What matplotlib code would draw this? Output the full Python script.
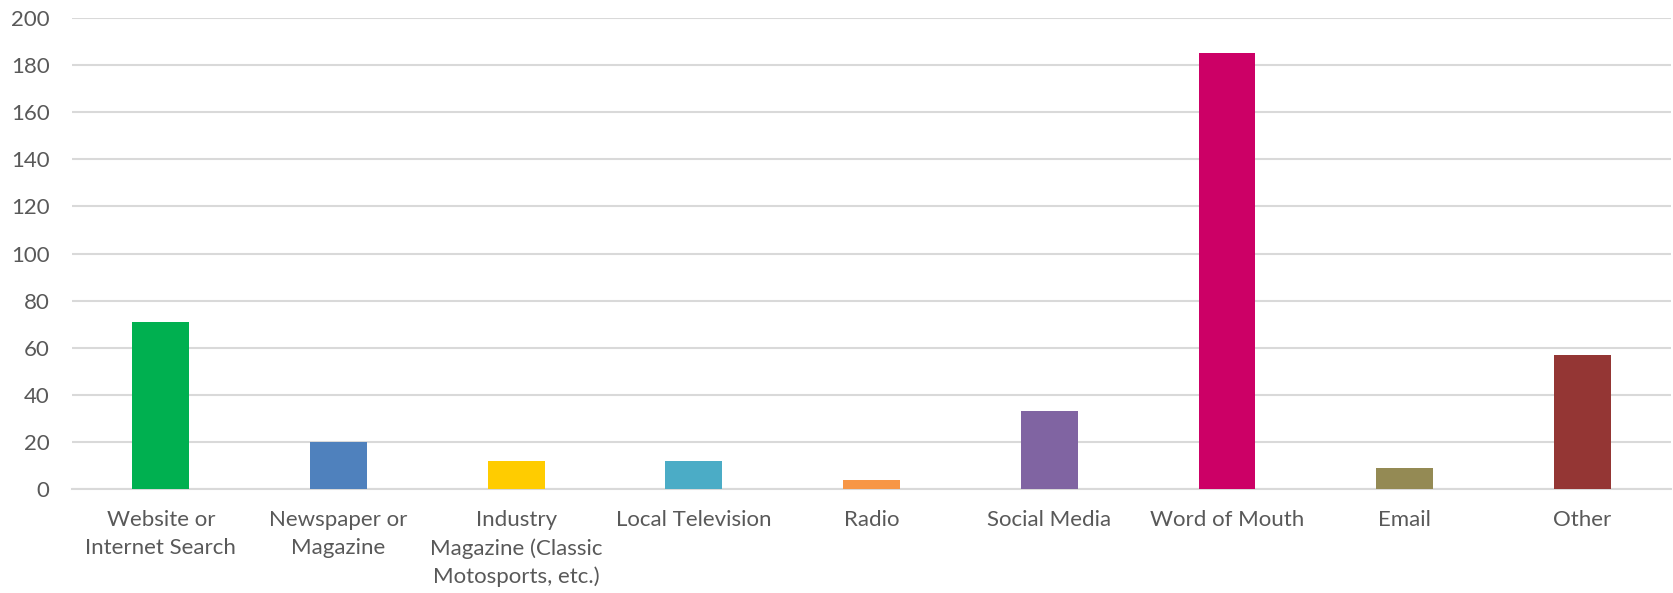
import matplotlib
matplotlib.use("Agg")
import matplotlib.pyplot as plt

# survey: how did you hear about us
categories = [
    "Website or\nInternet Search",
    "Newspaper or\nMagazine",
    "Industry\nMagazine (Classic\nMotosports, etc.)",
    "Local Television",
    "Radio",
    "Social Media",
    "Word of Mouth",
    "Email",
    "Other",
]
counts = [71, 20, 12, 12, 4, 33, 185, 9, 57]
bar_colors = ["#00B050", "#4F81BD", "#FFCC00", "#4BACC6", "#F79646",
              "#8064A2", "#CC0066", "#948A54", "#943634"]
y_ticks = list(range(0, 201, 20))

plt.rcParams["font.family"] = ["Lato", "DejaVu Sans"]

fig = plt.figure(figsize=(16.73, 5.93), dpi=100)
ax = fig.add_axes([0.043, 0.175, 0.956, 0.795])

x = range(len(categories))
ax.bar(x, counts, width=0.32, color=bar_colors, zorder=3)

ax.set_xlim(-0.5, len(categories) - 0.5)
ax.set_ylim(0, 200)
ax.set_yticks(y_ticks)
ax.set_xticks(list(x))
ax.set_xticklabels(categories, linespacing=1.48)

ax.yaxis.grid(True, color="#d9d9d9", linewidth=1.5, zorder=0)
ax.set_axisbelow(True)
for side in ["top", "right", "left"]:
    ax.spines[side].set_visible(False)
ax.spines["bottom"].set_color("#d9d9d9")
ax.spines["bottom"].set_linewidth(1.5)

ax.tick_params(axis="both", length=0, labelsize=16, colors="#595959")
ax.tick_params(axis="y", pad=16)
ax.tick_params(axis="x", pad=15)
for lbl in ax.get_xticklabels():
    lbl.set_verticalalignment("top")

fig.savefig("out.png", dpi=100, facecolor="white")
